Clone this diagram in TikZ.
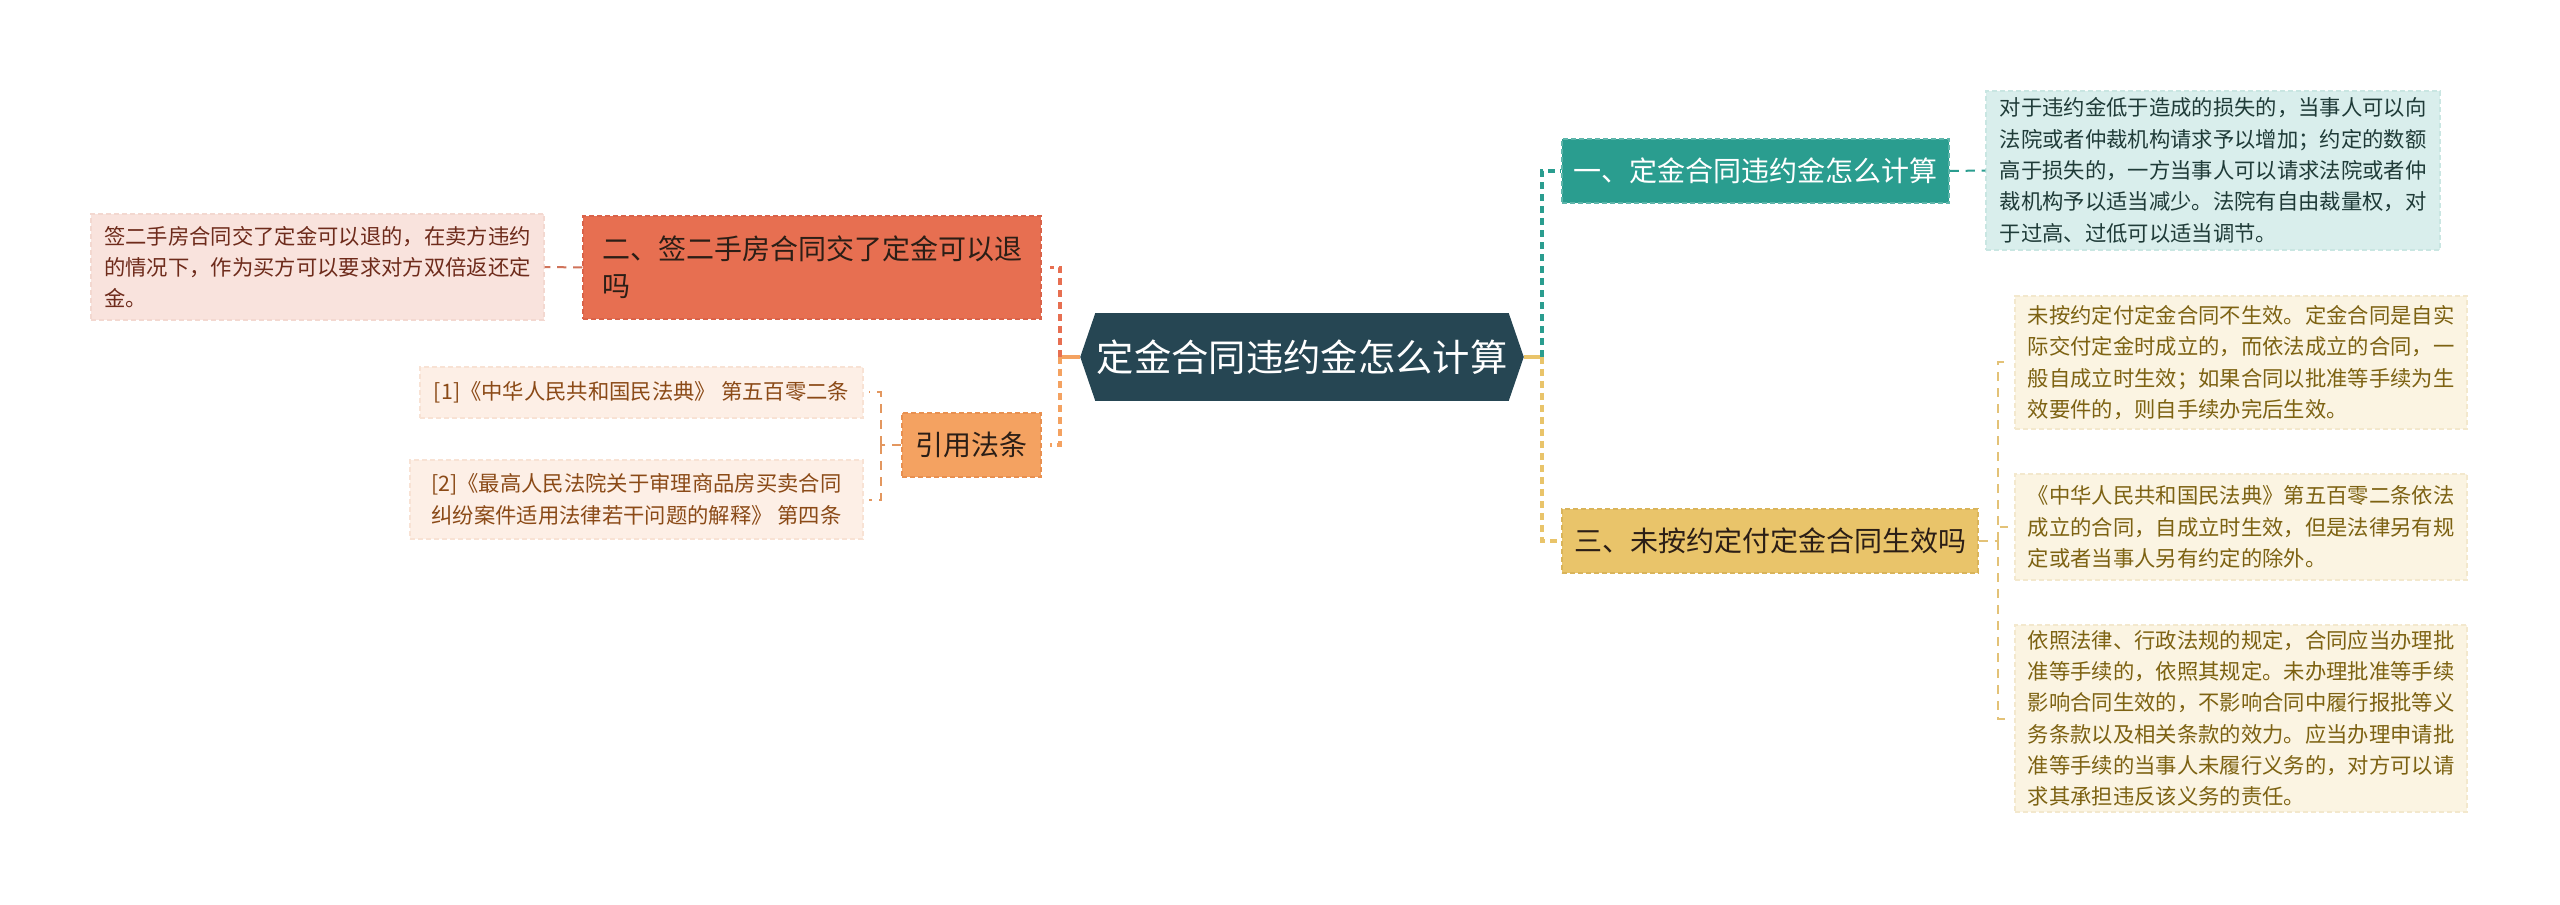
\documentclass[tikz,border=0pt]{standalone}
\usepackage{fontspec}
\setmainfont{Noto Sans CJK SC}
\usetikzlibrary{calc,backgrounds}
\definecolor{cdark}{HTML}{264653}
\definecolor{cteal}{HTML}{2A9D8F}
\definecolor{cyellow}{HTML}{E9C46A}
\definecolor{corange}{HTML}{F4A261}
\definecolor{ccoral}{HTML}{E76F51}
\definecolor{tealB}{HTML}{5DB5AA}
\definecolor{yellowB}{HTML}{D9B45A}
\definecolor{orangeB}{HTML}{E89050}
\definecolor{coralB}{HTML}{D9634A}
\definecolor{pinkF}{HTML}{F9E3DD}
\definecolor{pinkB}{HTML}{F3D8D0}
\definecolor{pinkT}{HTML}{6E2B1B}
\definecolor{peachF}{HTML}{FDEFE6}
\definecolor{peachB}{HTML}{F8E2D4}
\definecolor{peachT}{HTML}{8B4A17}
\definecolor{mintF}{HTML}{D9EEEC}
\definecolor{mintB}{HTML}{C9E6E2}
\definecolor{mintT}{HTML}{1F3B38}
\definecolor{creamF}{HTML}{FBF4E2}
\definecolor{creamB}{HTML}{F3E8CD}
\definecolor{creamT}{HTML}{7D6212}
\definecolor{txdark}{HTML}{2B1E16}
\definecolor{linkcoral}{HTML}{D0735A}
\definecolor{linkorange}{HTML}{E3975F}
\definecolor{linkyellow}{HTML}{E3C277}
\tikzset{
  wh/.style 2 args={minimum width=#1*0.75pt, minimum height=#2*0.75pt},
  branchbox/.style={draw, dash pattern=on 4pt off 2pt, line width=0.9pt, align=left, inner sep=2pt,
    font=\fontsize{21pt}{28pt}\selectfont},
  leafbox/.style={draw, dash pattern=on 4pt off 2pt, line width=0.8pt, align=left, inner sep=2pt,
    font=\fontsize{16pt}{23.5pt}\selectfont},
  mainlink/.style={line width=2.4pt, dash pattern=on 5pt off 4pt},
  stublink/.style={line width=2.4pt},
  sublink/.style={line width=1.5pt, dash pattern=on 7pt off 5pt}
}
\begin{document}
\begin{tikzpicture}[x=0.75pt,y=-0.75pt]
\useasboundingbox (0,0) rectangle (2560,905);

% center
\node[wh={443}{87}, text=white, font=\fontsize{28pt}{34pt}\selectfont, inner sep=0pt] (c) at (1302,357) {定金合同违约金怎么计算};
\begin{pgfonlayer}{background}
\fill[white] (0,0) rectangle (2560,905);
\fill[cdark] (c.west) -- ($(c.north west)+(15,0)$) -- ($(c.north east)+(-15,0)$) -- (c.east)
  -- ($(c.south east)+(-15,0)$) -- ($(c.south west)+(15,0)$) -- cycle;
\end{pgfonlayer}

% left side
\node[branchbox, wh={458}{103}, fill=ccoral, draw=coralB, text=txdark] (b2) at (812,267.5)
  {二、签二手房合同交了定金可以退\\吗};
\node[leafbox, wh={453}{106}, fill=pinkF, draw=pinkB, text=pinkT] (dl) at (317.5,267)
  {签二手房合同交了定金可以退的，在卖方违约\\的情况下，作为买方可以要求对方双倍返还定\\金。};
\node[branchbox, wh={139}{64}, fill=corange, draw=orangeB, text=txdark] (law) at (971.5,445) {引用法条};
\node[leafbox, wh={443}{51}, fill=peachF, draw=peachB, text=peachT] (cite1) at (641.5,392.5)
  {[1]《中华人民共和国民法典》 第五百零二条};
\node[leafbox, wh={453}{79}, fill=peachF, draw=peachB, text=peachT] (cite2) at (636.5,499.5)
  {[2]《最高人民法院关于审理商品房买卖合同\\纠纷案件适用法律若干问题的解释》 第四条};

% right side
\node[branchbox, wh={387}{64}, fill=cteal, draw=tealB, text=white] (b1) at (1755.5,171)
  {一、定金合同违约金怎么计算};
\node[leafbox, wh={454}{159}, fill=mintF, draw=mintB, text=mintT] (d1) at (2213,170.5)
  {对于违约金低于造成的损失的，当事人可以向\\法院或者仲裁机构请求予以增加；约定的数额\\高于损失的，一方当事人可以请求法院或者仲\\裁机构予以适当减少。法院有自由裁量权，对\\于过高、过低可以适当调节。};
\node[branchbox, wh={416}{64}, fill=cyellow, draw=yellowB, text=txdark] (b3) at (1770,541)
  {三、未按约定付定金合同生效吗};
\node[leafbox, wh={452}{133}, fill=creamF, draw=creamB, text=creamT] (e1) at (2241,362.5)
  {未按约定付定金合同不生效。定金合同是自实\\际交付定金时成立的，而依法成立的合同，一\\般自成立时生效；如果合同以批准等手续为生\\效要件的，则自手续办完后生效。};
\node[leafbox, wh={452}{106}, fill=creamF, draw=creamB, text=creamT] (e2) at (2241,527)
  {《中华人民共和国民法典》第五百零二条依法\\成立的合同，自成立时生效，但是法律另有规\\定或者当事人另有约定的除外。};
\node[leafbox, wh={452}{187}, fill=creamF, draw=creamB, text=creamT] (e3) at (2241,718.5)
  {依照法律、行政法规的规定，合同应当办理批\\准等手续的，依照其规定。未办理批准等手续\\影响合同生效的，不影响合同中履行报批等义\\务条款以及相关条款的效力。应当办理申请批\\准等手续的当事人未履行义务的，对方可以请\\求其承担违反该义务的责任。};

% connectors: center
\coordinate (jl) at (1060,357);
\coordinate (jr) at (1542,357);
\draw[stublink, corange] (c.west) -- (jl);
\draw[stublink, cyellow] (c.east) -- (jr);
\draw[mainlink, ccoral] (jl) |- ($(b2.east)+(8,0)$);
\draw[mainlink, corange] (jl) |- ($(law.east)+(8,0)$);
\draw[mainlink, cteal] (jr) |- (b1.west);
\draw[mainlink, cyellow] (jr) |- (b3.west);

% sub connectors
\draw[sublink, linkcoral] (b2.west) -- (dl.east);
\draw[sublink, cteal] (b1.east) -- (d1.west);
\draw[sublink, linkorange] (law.west) -- ++(-20,0) coordinate (jc);
\draw[sublink, linkorange] (jc) |- ($(cite1.east)+(5,0)$);
\draw[sublink, linkorange] (jc) |- ($(cite2.east)+(5,0)$);
\draw[sublink, linkyellow] (b3.east) -- ++(19,0) coordinate (je);
\draw[sublink, linkyellow] (je) |- ($(e1.west)+(-6,0)$);
\draw[sublink, linkyellow] (je) |- ($(e2.west)+(-6,0)$);
\draw[sublink, linkyellow] (je) |- ($(e3.west)+(-6,0)$);
\end{tikzpicture}
\end{document}
